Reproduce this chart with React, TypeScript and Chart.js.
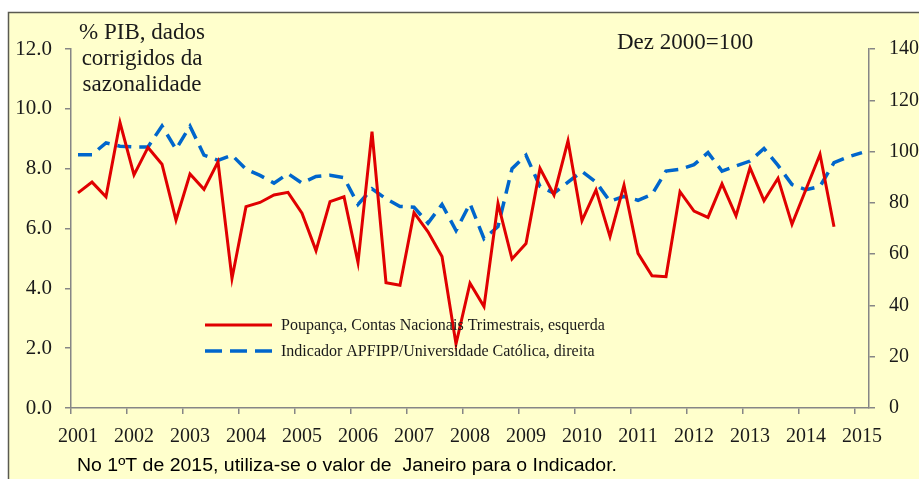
import React, { useEffect, useRef } from "react";
import { Chart, registerables } from "chart.js";

Chart.register(...registerables);

const years = ["2001","2002","2003","2004","2005","2006","2007","2008","2009","2010","2011","2012","2013","2014","2015"];
const quarterLabels: string[] = [];
for (const y of years) {
  for (let q = 1; q <= 4; q++) {
    if (y === "2015" && q > 1) break;
    quarterLabels.push(y + "T" + q);
  }
}

const poupanca: (number | null)[] = [
  7.19, 7.55, 7.06, 9.54, 7.79, 8.71, 8.15, 6.28, 7.82, 7.31,
  8.23, 4.33, 6.73, 6.87, 7.12, 7.21, 6.51, 5.26, 6.90, 7.06,
  4.86, 9.24, 4.19, 4.10, 6.53, 5.89, 5.06, 2.14, 4.17, 3.39,
  6.84, 4.98, 5.50, 8.01, 7.12, 8.93, 6.26, 7.29, 5.73, 7.45,
  5.17, 4.42, 4.39, 7.23, 6.58, 6.37, 7.49, 6.42, 8.03, 6.93,
  7.68, 6.14, 7.31, 8.48, 6.06, null, null,
];

const indicador: number[] = [
  98.8, 98.8, 103.4, 102.1, 101.8, 101.8, 110.0, 100.9, 109.9, 98.6,
  96.6, 98.6, 93.1, 90.7, 87.7, 91.4, 87.7, 90.3, 90.8, 89.8,
  79.4, 85.5, 81.6, 78.6, 78.3, 72.1, 79.4, 69.2, 79.7, 66.0,
  70.8, 93.3, 98.6, 86.4, 83.8, 88.1, 92.3, 88.1, 80.6, 82.5,
  81.0, 83.3, 92.4, 93.1, 94.9, 99.6, 92.4, 94.4, 96.3, 101.2,
  94.6, 87.1, 85.1, 86.4, 95.7, 97.9, 99.6,
];

const titleLines = ["% PIB, dados", "corrigidos da", "sazonalidade"];
const baseNote = "Dez 2000=100";
const legendLabels = [
  "Poupança, Contas Nacionais Trimestrais, esquerda",
  "Indicador APFIPP/Universidade Católica, direita",
];
const footnote = "No 1ºT de 2015, utiliza-se o valor de  Janeiro para o Indicador.";

const RED = "#E00000";
const BLUE = "#0066CC";
const AXIS = "#868686";
const BG = "#FFFFCC";
const SERIF = "'Liberation Serif', 'DejaVu Serif', serif";

const decorPlugin = {
  id: "decor",
  beforeDraw(chart: any) {
    const ctx = chart.ctx;
    ctx.save();
    ctx.fillStyle = "#ffffff";
    ctx.fillRect(0, 0, chart.width, chart.height);
    ctx.fillStyle = BG;
    ctx.fillRect(8, 12, chart.width - 8, chart.height - 12);
    ctx.strokeStyle = "#5a5a50";
    ctx.lineWidth = 1.5;
    ctx.beginPath();
    ctx.moveTo(8.5, chart.height);
    ctx.lineTo(8.5, 12.5);
    ctx.lineTo(chart.width, 12.5);
    ctx.stroke();
    ctx.restore();
  },
  afterDraw(chart: any) {
    const ctx = chart.ctx;
    ctx.save();
    ctx.fillStyle = "#1a1a1a";
    ctx.font = "23px " + SERIF;
    ctx.textAlign = "center";
    ctx.textBaseline = "middle";
    titleLines.forEach((t, i) => ctx.fillText(t, 142, 33 + i * 26));
    ctx.textAlign = "left";
    ctx.fillText(baseNote, 617, 43);

    // legend
    ctx.font = "16px " + SERIF;
    ctx.lineWidth = 3;
    ctx.strokeStyle = RED;
    ctx.setLineDash([]);
    ctx.beginPath();
    ctx.moveTo(205, 325);
    ctx.lineTo(272, 325);
    ctx.stroke();
    ctx.fillText(legendLabels[0], 281, 326);
    ctx.strokeStyle = BLUE;
    ctx.lineWidth = 3.5;
    ctx.setLineDash([17, 8]);
    ctx.beginPath();
    ctx.moveTo(205, 351);
    ctx.lineTo(272, 351);
    ctx.stroke();
    ctx.setLineDash([]);
    ctx.fillText(legendLabels[1], 281, 352);

    // footnote (Calibri-like narrow sans)
    ctx.fillStyle = "#000000";
    ctx.font = "18px 'Liberation Sans', Arial, sans-serif";
    const w = ctx.measureText(footnote).width;
    const sx = 540 / w;
    ctx.translate(77, 466);
    ctx.scale(sx, 1);
    ctx.fillText(footnote, 0, 0);
    ctx.restore();
  },
};

export default function App() {
  const ref = useRef<HTMLCanvasElement | null>(null);

  useEffect(() => {
    if (!ref.current) return;
    const chart = new Chart(ref.current, {
      type: "line",
      data: {
        labels: quarterLabels,
        datasets: [
          {
            label: legendLabels[0],
            data: poupanca,
            borderColor: RED,
            backgroundColor: RED,
            borderWidth: 3,
            pointRadius: 0,
            tension: 0,
            yAxisID: "y",
            spanGaps: false,
          },
          {
            label: legendLabels[1],
            data: indicador,
            borderColor: BLUE,
            backgroundColor: BLUE,
            borderWidth: 3.5,
            borderDash: [14, 8],
            pointRadius: 0,
            tension: 0,
            yAxisID: "y1",
          },
        ],
      },
      options: {
        responsive: false,
        animation: false,
        events: [],
        layout: { padding: { top: 49, left: 0, right: 0, bottom: 0 } },
        plugins: {
          legend: { display: false },
          tooltip: { enabled: false },
          title: { display: false },
        },
        scales: {
          x: {
            type: "category",
            offset: true,
            afterFit: (s: any) => { s.height = 71; },
            grid: {
              offset: true,
              drawOnChartArea: false,
              tickLength: 6,
              lineWidth: 1.5,
              color: (c: any) => (c.index % 4 === 0 ? AXIS : "rgba(0,0,0,0)"),
            },
            border: { color: AXIS, width: 1.5 },
            ticks: {
              autoSkip: false,
              maxRotation: 0,
              minRotation: 0,
              padding: 11,
              color: "#1a1a1a",
              font: { family: SERIF, size: 20 },
              callback: (_v: any, i: number) => (i % 4 === 0 ? quarterLabels[i].slice(0, 4) : ""),
            },
          },
          y: {
            position: "left",
            min: 0,
            max: 12,
            afterFit: (s: any) => { s.width = 71; },
            grid: { drawOnChartArea: false, tickLength: 6, color: AXIS, lineWidth: 1.5 },
            border: { color: AXIS, width: 1.5 },
            ticks: {
              stepSize: 2,
              padding: 13,
              color: "#1a1a1a",
              font: { family: SERIF, size: 21 },
              callback: (v: any) => Number(v).toFixed(1),
            },
          },
          y1: {
            position: "right",
            min: 0,
            max: 140,
            afterFit: (s: any) => { s.width = 50; },
            grid: { drawOnChartArea: false, tickLength: 6, color: AXIS, lineWidth: 1.5 },
            border: { color: AXIS, width: 1.5 },
            ticks: {
              stepSize: 20,
              padding: 14,
              color: "#1a1a1a",
              font: { family: SERIF, size: 20 },
            },
          },
        },
      },
      plugins: [decorPlugin],
    } as any);
    return () => chart.destroy();
  }, []);

  return (
    <div style={{ position: "fixed", left: 0, top: 0, width: 919, height: 479 }}>
      <canvas ref={ref} width={919} height={479} style={{ display: "block", width: 919, height: 479 }} />
    </div>
  );
}
